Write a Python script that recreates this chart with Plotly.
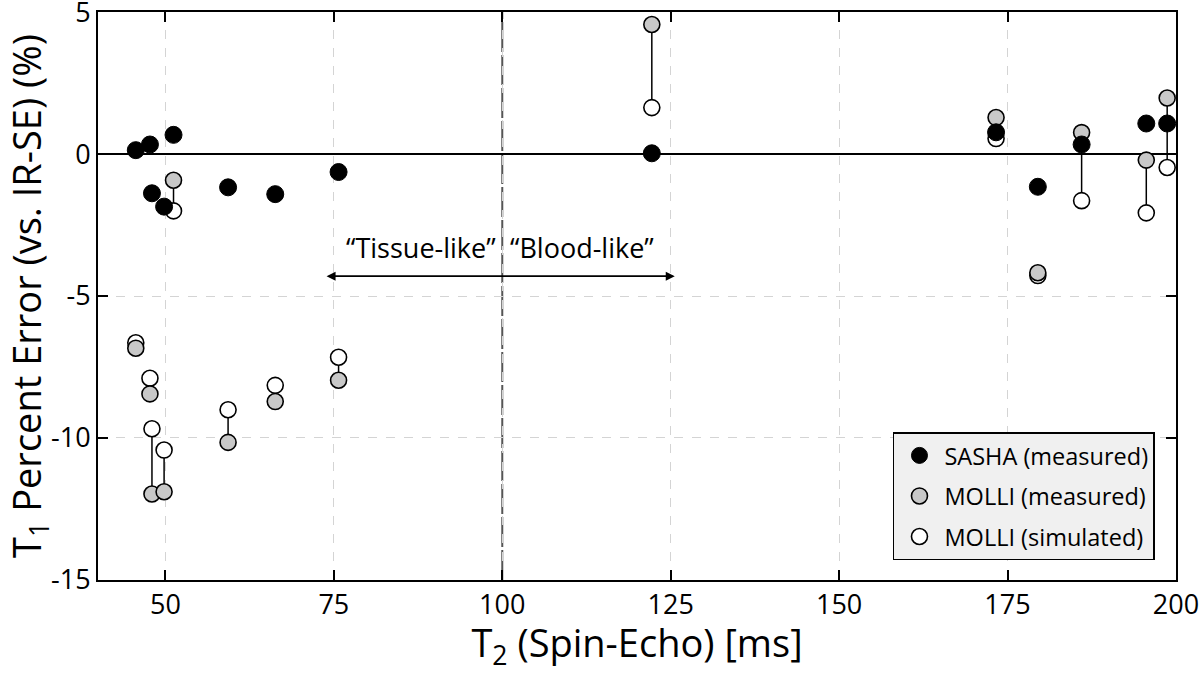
import plotly.graph_objects as go

# ---- data ----
t2 = [45.6, 47.7, 48.0, 49.8, 51.2, 59.3, 66.3, 75.7, 122.2, 173.3, 179.5, 186.0, 195.6, 198.7]
sasha = [0.14, 0.34, -1.38, -1.85, 0.68, -1.17, -1.41, -0.63, 0.03, 0.77, -1.15, 0.34, 1.08, 1.08]
molli_meas = [-6.84, -8.45, -11.98, -11.90, -0.92, -10.16, -8.72, -7.97, 4.57, 1.29, -4.18, 0.76, -0.21, 1.98]
molli_sim = [-6.65, -7.90, -9.68, -10.43, -2.00, -9.01, -8.15, -7.16, 1.64, 0.55, -4.28, -1.64, -2.07, -0.47]

x_ticks = [50, 75, 100, 125, 150, 175, 200]
y_ticks = [5, 0, -5, -10, -15]
y_tick_labels = ["5", "0", "-5", "-10", "-15"]

names = ["SASHA (measured)", "MOLLI (measured)", "MOLLI (simulated)"]
tissue_label = "\u201cTissue-like\u201d"
blood_label = "\u201cBlood-like\u201d"
divider_t2 = 100
arrow_left, arrow_right, arrow_y = 73.7, 125.6, -4.3

FONT = "Open Sans"

fig = go.Figure()

# connecting lines between measured and simulated MOLLI
lx, ly = [], []
for x, a, b in zip(t2, molli_meas, molli_sim):
    lx += [x, x, None]
    ly += [a, b, None]
fig.add_trace(go.Scatter(x=lx, y=ly, mode="lines", line=dict(color="black", width=1.5),
                         showlegend=False, hoverinfo="skip"))

fig.add_trace(go.Scatter(x=t2, y=molli_sim, mode="markers", name=names[2], legendgroup="c",
                         legendrank=3,
                         marker=dict(size=16, color="white", line=dict(color="black", width=1.6))))
fig.add_trace(go.Scatter(x=t2, y=molli_meas, mode="markers", name=names[1], legendgroup="b",
                         legendrank=2,
                         marker=dict(size=16, color="#c8c8c8", line=dict(color="black", width=1.6))))
fig.add_trace(go.Scatter(x=t2, y=sasha, mode="markers", name=names[0], legendgroup="a",
                         legendrank=1,
                         marker=dict(size=17, color="black", line=dict(color="black", width=1))))

# divider line at T2=100
fig.add_shape(type="line", xref="x", yref="paper", x0=divider_t2, x1=divider_t2, y0=0, y1=1,
              line=dict(color="#555555", width=2, dash="30px,3px"), layer="below")

# arrow and labels
fig.add_annotation(x=arrow_right, y=arrow_y, ax=arrow_left, ay=arrow_y, xref="x", yref="y",
                   axref="x", ayref="y", text="", showarrow=True, arrowhead=2, startarrowhead=2,
                   arrowside="end+start", arrowwidth=1.8, arrowsize=1, startarrowsize=1,
                   arrowcolor="black")
fig.add_annotation(x=divider_t2 - 0.6, y=-3.3, xref="x", yref="y", text=tissue_label,
                   showarrow=False, xanchor="right", yanchor="middle",
                   font=dict(family=FONT, size=27, color="black"))
fig.add_annotation(x=divider_t2 + 0.9, y=-3.3, xref="x", yref="y", text=blood_label,
                   showarrow=False, xanchor="left", yanchor="middle",
                   font=dict(family=FONT, size=27, color="black"))

fig.update_layout(
    width=1200, height=673,
    margin=dict(l=98, r=24, t=12, b=93, autoexpand=False),
    paper_bgcolor="white", plot_bgcolor="white",
    font=dict(family=FONT, color="black"),
    legend=dict(x=0.9805, y=0.035, xanchor="right", yanchor="bottom",
                bgcolor="#f0f0f0", bordercolor="black", borderwidth=1.5,
                font=dict(family=FONT, size=23.5, color="black"),
                traceorder="grouped", tracegroupgap=7,
                itemwidth=40),
    xaxis=dict(range=[39.99, 200.01], tickvals=x_ticks, ticks="inside", ticklen=10, tickwidth=1.5,
               tickcolor="black", showline=True, linecolor="black", linewidth=2, mirror="ticks",
               showgrid=True, gridcolor="#d4d4d4", griddash="dash", gridwidth=1.2,
               zeroline=False, automargin=False, ticklabeloverflow="allow",
               tickfont=dict(family=FONT, size=27, color="black"),
               title=dict(text="T<sub>2</sub> (Spin-Echo) [ms]", standoff=6,
                          font=dict(family=FONT, size=38, color="black"))),
    yaxis=dict(range=[-15.01, 5.01], tickvals=y_ticks, ticktext=y_tick_labels, ticks="inside",
               ticklen=10, tickwidth=1.5, tickcolor="black", showline=True, linecolor="black",
               linewidth=2, mirror="ticks", automargin=False, ticklabeloverflow="allow",
               showgrid=True, gridcolor="#d4d4d4", griddash="dash", gridwidth=1.2,
               zeroline=True, zerolinecolor="black", zerolinewidth=1.8,
               tickfont=dict(family=FONT, size=27, color="black"),
               title=dict(text="T<sub>1</sub> Percent Error (vs. IR-SE) (%)", standoff=0,
                          font=dict(family=FONT, size=38, color="black"))),
)

fig.write_html("out.html", config={"displayModeBar": False},
               post_script="document.body.style.margin='0px';")
